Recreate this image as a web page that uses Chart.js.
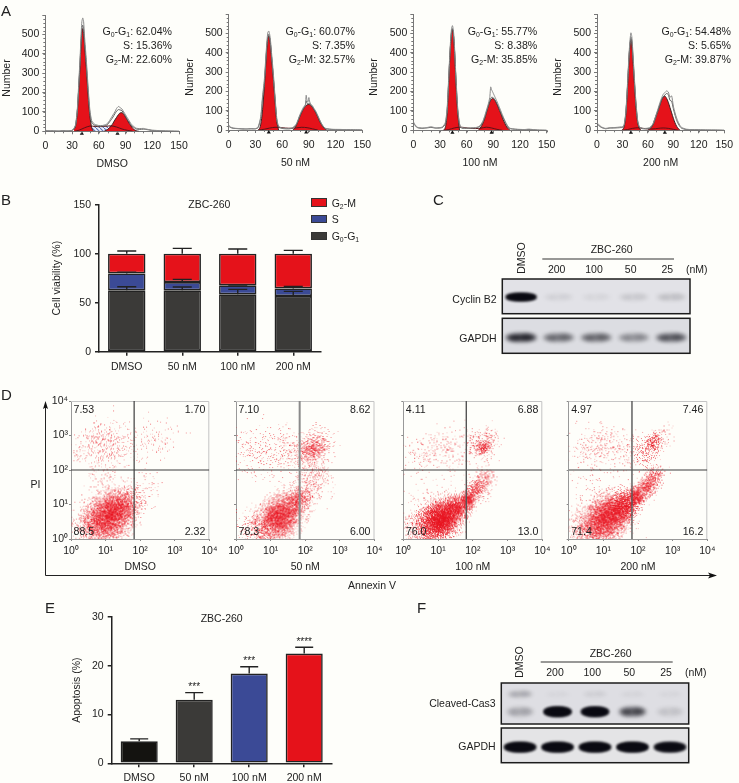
<!DOCTYPE html>
<html><head><meta charset="utf-8">
<script src="https://cdn.jsdelivr.net/npm/chart.js@4"></script>
<style>
html,body{margin:0;padding:0;background:#fefefa;width:739px;height:783px;overflow:hidden}
canvas{position:absolute;left:0;top:0;pointer-events:none}
.t{position:absolute;white-space:nowrap;line-height:1;font-family:"Liberation Sans",Arial,sans-serif;color:#222;font-size:10.5px}
.t i{font-style:normal;font-size:65%;position:relative;top:.3em}
svg{position:absolute;left:0;top:0}
</style></head><body>
<svg width="739" height="783">
<path d="M45.5 406V575.5H712" fill="none" stroke="#222" stroke-width="1"/>
<path d="M45.5 401L48 409L45.5 407.5L43 409Z M717 575.5L708 572.5L710 575.5L708 578.5Z" fill="#111"/>
<path d="M542.3 259H674M540.7 662H672.7" stroke="#333" stroke-width="1"/>
</svg>
<script>
// ---------- Panel A: cell-cycle histograms ----------
const dmsoG1X=[32,34,35,36,37,38,39,40,41,42,43,44,45,46,47,48,49,50,51,52,54];
const dmsoG1Y=[10,30,60,110,180,260,340,440,510,530,505,450,390,330,260,190,130,80,45,20,0];
const dmsoG2X=[66,70,72,74,76,78,80,82,84,86,88,90,92,94,96,98,100,102,105];
const dmsoG2Y=[0,10,18,28,42,58,72,86,95,96,88,74,58,42,28,16,8,3,0];
const dmsoSX=[33,38,44,50,56,62,68,74,80,86,92,98];
const dmsoSY=[0,6,18,27,25,24,26,28,22,12,5,0];
const dmsoRawX=[0,5,10,15,20,25,30,32,34,36,38,39,40,41,42,43,44,46,48,50,52,54,56,60,64,68,70,72,74,76,78,80,82,84,86,88,90,92,94,96,98,100,102,106,110,115,120,130,140,150];
const dmsoRawA=[5,3,2,2,2,3,5,14,35,120,290,380,480,565,585,565,490,370,230,110,55,42,35,30,30,35,42,55,70,85,100,118,128,122,115,100,85,70,55,40,30,22,16,14,15,10,6,3,1,0];
const dmsoRawB=[4,2,2,1,3,2,4,12,30,105,270,355,450,530,548,525,460,345,210,95,45,35,30,26,27,30,36,48,60,74,90,104,112,110,106,92,78,60,48,34,24,18,12,10,11,8,4,2,1,0];
const dmsoMarks=[41,81];

const nm50G1X=[33,35,36,37,38,39,40,41,42,43,44,45,46,47,48,49,50,51,52,53,54,56];
const nm50G1Y=[0,12,30,60,105,160,225,295,370,435,475,485,475,440,385,330,275,215,155,95,45,0];
const nm50G2X=[72,74,76,78,80,82,84,86,88,90,92,94,96,98,100,102,104,106,108,110];
const nm50G2Y=[0,8,25,48,72,92,110,122,130,132,128,118,104,88,68,46,30,16,6,0];
const nm50SX=[34,40,46,52,58,64,70,76,82,88,94,100];
const nm50SY=[0,4,10,14,13,10,9,11,14,12,6,0];
const nm50RawX=[0,2,5,10,15,20,25,30,33,36,38,40,42,43,44,45,46,47,48,50,52,54,56,60,64,68,72,76,78,80,82,84,86,87,88,89,90,91,92,94,96,98,100,104,108,115,125,140,150];
const nm50RawA=[25,16,10,8,7,6,7,7,15,70,175,260,400,465,505,512,495,460,405,300,175,60,20,10,8,8,12,32,55,80,100,118,130,180,150,145,168,145,135,125,110,95,75,35,10,4,3,1,0];
const nm50RawB=[20,13,9,7,5,5,6,6,12,60,160,240,380,445,480,495,478,440,385,280,160,50,15,8,6,6,10,28,50,74,95,112,126,150,138,135,140,136,130,120,105,90,70,32,8,3,2,1,0];
const nm50Marks=[45,87];

const nm100G1X=[34,36,37,38,39,40,41,42,43,44,45,46,47,48,49,50,52];
const nm100G1Y=[0,15,40,90,170,270,370,450,505,519,500,440,350,250,160,90,0];
const nm100G2X=[73,75,77,79,81,83,85,87,89,91,93,95,97,99,101,103,105,107,109];
const nm100G2Y=[0,10,25,45,72,105,135,155,164,160,145,125,102,80,55,35,18,7,0];
const nm100SX=[34,40,46,52,58,64,70,76,82,88,94,100];
const nm100SY=[0,4,12,16,14,10,9,11,16,12,5,0];
const nm100RawX=[0,2,5,10,15,20,25,30,33,36,38,40,41,42,43,44,45,46,47,48,50,52,54,58,62,66,70,74,76,78,80,82,84,86,87,88,89,90,92,94,96,98,100,104,108,115,125,130,140,150];
const nm100RawA=[45,28,15,12,14,18,13,14,18,40,110,290,390,470,525,540,520,460,370,270,110,35,15,12,12,13,14,20,30,45,70,100,130,170,224,210,200,190,170,150,128,105,82,40,12,6,4,6,1,0];
const nm100RawB=[38,24,13,10,12,15,11,12,15,32,95,275,375,450,510,525,500,445,355,255,100,28,12,10,10,11,12,18,26,40,62,92,122,150,165,170,170,168,155,138,118,95,75,35,10,5,3,4,1,0];
const nm100Marks=[44,88];

const nm200G1X=[29,31,32,33,34,35,36,37,38,39,40,41,42,43,44,45,46,47,48,50,52];
const nm200G1Y=[0,8,20,45,85,150,225,310,390,445,468,450,390,320,250,180,120,75,40,10,0];
const nm200G2X=[60,62,64,66,68,70,72,74,76,78,80,82,84,86,88,90,92,94,96,98];
const nm200G2Y=[0,6,15,30,55,80,105,130,155,172,176,165,145,118,90,62,38,20,8,0];
const nm200SX=[30,36,42,48,54,60,66,72,78,84,90,96];
const nm200SY=[0,4,10,13,10,7,7,10,12,10,5,0];
const nm200RawX=[0,2,5,10,15,20,25,28,30,32,34,35,36,37,38,39,40,41,42,43,44,46,48,50,54,58,62,66,70,72,74,76,78,80,82,84,86,88,90,92,94,96,98,100,105,110,120,130,140,150];
const nm200RawA=[38,30,18,10,14,14,16,18,18,30,95,165,245,330,410,470,503,485,425,350,275,140,50,18,10,10,14,34,85,112,140,165,185,195,203,198,170,178,125,90,62,40,24,14,6,4,3,2,1,0];
const nm200RawB=[32,25,15,8,11,12,13,14,15,25,85,150,230,315,395,450,480,462,405,335,260,130,42,15,8,8,11,28,75,100,128,155,172,182,190,185,155,150,112,78,50,32,18,10,4,3,2,1,1,0];
const nm200Marks=[40,80];

const doses=['DMSO','50 nM','100 nM','200 nM'];
// ---------- Panel B ----------
const g0g1=[62.6,62.6,58.5,56.8];
const sPhase=[17.3,8.4,9.2,7.8];
const g2m=[20.1,29,32.3,35.4];
const g0g1Err=[66.3,66,63.6,61.6];
const sPhaseErr=[81,73.8,68,66.7];
const g2mErr=[102.7,105.4,104.8,103.4];
// ---------- Panel E ----------
const apoptosis=[4.5,13.05,18.4,22.5];
const apoptosisErr=[5,14.5,19.8,23.8];
const apoptosisStars=['','***','***','****'];
// ---------- Blots: relative band intensity ----------
const lanes=['DMSO','200','100','50','25'];
const cyclinB2Bands=[1,.06,.045,.09,.12];
const gapdhCBands=[.8,.45,.47,.3,.55];
const cas3UpperBands=[.2,.03,.06,.04,.03];
const cas3LowerBands=[.2,1,.95,.6,.09];
const gapdhFBands=[1,1,1,1,.88];
// ---------- Panel D: estimated clouds [Annexin V, PI, spread in decades, dots] ----------
const cloudsDmso=[[8.9,3.5,.28,1300],[15.8,6.3,.25,1300],[31.6,10,.2,420],[4,2,.25,300],[70,14,.18,70],[126,32,.2,40],[7.9,631,.3,210],[2,400,.2,40],[25,500,.3,50],[158,708,.3,70],[630,1000,.2,15],[10,50,.3,60]];
const clouds50=[[11.2,2.8,.25,900],[20,5,.22,1000],[40,8.9,.2,500],[71,15.8,.13,200],[4,1.6,.25,200],[158,40,.22,150],[251,79,.15,40],[178,447,.18,350],[100,316,.2,100],[2.5,355,.3,90],[12.6,355,.3,110],[40,398,.25,70],[316,794,.2,40],[40,63,.3,30]];
const clouds100=[[7.9,2.8,.22,1500],[14,4.5,.2,1500],[31.6,7.9,.17,800],[71,14,.1,350],[126,28,.13,250],[224,63,.12,120],[2.5,2,.25,200],[178,447,.07,60],[224,447,.07,60],[158,562,.2,170],[316,891,.12,30],[2.5,316,.2,40],[7.9,398,.25,70],[31.6,447,.25,60],[5,25,.5,70]];
const clouds200=[[8.9,3.2,.25,1300],[17.8,5.6,.22,1300],[40,10,.17,800],[89,17.8,.12,400],[178,35,.13,300],[316,71,.12,150],[3.2,2,.25,250],[282,631,.12,150],[158,355,.2,150],[447,1000,.15,30],[3.2,316,.3,70],[10,562,.25,110],[40,398,.3,70],[7.9,20,.5,90],[6.3,1.6,.25,200]];
const gates=[67,69,65,67];
const piGate=100;
const powers=[1,10,100,1000,10000];

const W=739,H=783,FONT='"Liberation Sans",Arial,sans-serif';
const INK='#222',RED='#e5121a',BLUE='#3b4a96',DARK='#3b3a38';
Chart.defaults.font.family=FONT;Chart.defaults.font.size=10.5;Chart.defaults.color=INK;Chart.defaults.animation=false;
Chart.defaults.plugins.legend.display=false;Chart.defaults.plugins.tooltip.enabled=false;

function T(x,y,html,o={}){const d=document.createElement('div');d.className='t';d.innerHTML=html;
 const a=o.a||'c',tx=a==='l'?'0':a==='r'?'-100%':'-50%';
 d.style.left=x+'px';d.style.top=y+'px';
 d.style.transform=`translate(${tx},-50%)`+(o.rot?` rotate(${o.rot}deg)`:'');
 if(o.size)d.style.fontSize=o.size+'px';document.body.appendChild(d);}
function mk(cfg){const c=document.createElement('canvas');c.width=W;c.height=H;c.style.width=W+'px';c.style.height=H+'px';document.body.appendChild(c);
 cfg.options=cfg.options||{};cfg.options.responsive=false;cfg.options.maintainAspectRatio=false;return new Chart(c,cfg);}
function pad(L,T_,R,B,yw,xh){return {autoPadding:false,padding:{left:L-yw,top:T_,right:W-R,bottom:H-B-xh}};}
const fitW=w=>s=>{s.width=w},fitH=h=>s=>{s.height=h};
const zip=(xs,ys)=>xs.map((x,i)=>({x,y:ys[i]}));

// ---------- A ----------
const hatch=(()=>{const c=document.createElement('canvas');c.width=c.height=4;const g=c.getContext('2d');g.fillStyle='#eef1fa';g.fillRect(0,0,4,4);g.strokeStyle='#5b72b8';g.lineWidth=1.1;g.beginPath();g.moveTo(0,0);g.lineTo(4,4);g.stroke();return g.createPattern(c,'repeat');})();
const minorTicks={id:'minorTicks',afterDraw(ch){const g=ch.ctx,a=ch.chartArea;g.save();g.strokeStyle='#777';g.lineWidth=1;g.beginPath();
 for(let v=0;v<=150;v+=10){const p=Math.round(ch.scales.x.getPixelForValue(v))+.5;g.moveTo(p,a.bottom);g.lineTo(p,a.bottom+2);}
 for(let v=0;v<=600;v+=20){const p=Math.round(ch.scales.y.getPixelForValue(v))+.5;g.moveTo(a.left,p);g.lineTo(a.left-2,p);}
 g.stroke();g.restore();}};
function hist(L,R,Tp,B,title,g1x,g1y,g2x,g2y,sx,sy,rx,ra,rb,marks,hatched){
 mk({type:'line',data:{datasets:[
  {data:zip(rx,ra),borderColor:'#8a8a8a',borderWidth:1,pointRadius:0,tension:.2,order:0},
  {data:zip(rx,rb),borderColor:'#5f5f5f',borderWidth:1,pointRadius:0,tension:.2,order:0},
  {data:zip(sx,sy),borderColor:'#5a1418',borderWidth:1,pointRadius:0,tension:.3,order:1},
  {data:zip(g1x,g1y),borderColor:'#3d2224',borderWidth:1,backgroundColor:RED,fill:'origin',pointRadius:0,cubicInterpolationMode:'monotone',order:2},
  {data:zip(g2x,g2y),borderColor:'#3d2224',borderWidth:1,backgroundColor:RED,fill:'origin',pointRadius:0,cubicInterpolationMode:'monotone',order:2},
  {data:zip(sx,sy),borderWidth:0,backgroundColor:hatched?hatch:'rgba(0,0,0,0)',fill:'origin',pointRadius:0,tension:.3,order:3},
  {data:marks.map(x=>({x,y:-12})),showLine:false,pointStyle:'triangle',pointRadius:2.4,pointBackgroundColor:'#111',pointBorderWidth:0,clip:false,order:0}
 ]},options:{layout:pad(L,Tp,R,B,45,39),scales:{
  x:{type:'linear',min:0,max:150,afterFit:fitH(39),border:{color:'#777'},grid:{drawOnChartArea:false,tickLength:3,color:'#777'},
     ticks:{stepSize:30,maxRotation:0,padding:6},title:{display:true,text:title,padding:0,font:{size:10.5}}},
  y:{min:0,max:600,afterFit:fitW(45),border:{color:'#777'},grid:{drawOnChartArea:false,tickLength:3,color:'#777'},
     ticks:{stepSize:100,padding:3,callback:v=>v===600?'':v}}}},plugins:[minorTicks]});
}
hist(45.3,179,15,131.3,'DMSO',dmsoG1X,dmsoG1Y,dmsoG2X,dmsoG2Y,dmsoSX,dmsoSY,dmsoRawX,dmsoRawA,dmsoRawB,dmsoMarks,true);
hist(228.7,362.3,14,130,'50 nM',nm50G1X,nm50G1Y,nm50G2X,nm50G2Y,nm50SX,nm50SY,nm50RawX,nm50RawA,nm50RawB,nm50Marks,false);
hist(413.3,546.7,14,130.3,'100 nM',nm100G1X,nm100G1Y,nm100G2X,nm100G2Y,nm100SX,nm100SY,nm100RawX,nm100RawA,nm100RawB,nm100Marks,false);
hist(597,730.3,14,130.3,'200 nM',nm200G1X,nm200G1Y,nm200G2X,nm200G2Y,nm200SX,nm200SY,nm200RawX,nm200RawA,nm200RawB,nm200Marks,false);
[[6,78],[189,77],[373,77],[557,77]].forEach(p=>T(p[0],p[1],'Number',{rot:-90,size:10.5}));
[[172,'62.04%','15.36%','22.60%'],[355,'60.07%','7.35%','32.57%'],[537.3,'55.77%','8.38%','35.85%'],[731,'54.48%','5.65%','39.87%']].forEach(r=>{
 T(r[0],31,`G<i>0</i>-G<i>1</i>: ${r[1]}`,{a:'r',size:10.6});T(r[0],45,`S: ${r[2]}`,{a:'r',size:10.6});T(r[0],59,`G<i>2</i>-M: ${r[3]}`,{a:'r',size:10.6});});

// ---------- error bars / stars ----------
const errBars={id:'errBars',afterDatasetsDraw(ch,_,o){const g=ch.ctx;g.save();g.strokeStyle='#222';g.lineWidth=1.4;
 o.sets.forEach(s=>{const m=ch.getDatasetMeta(s.i);s.err.forEach((v,k)=>{const b=m.data[k],yt=ch.scales.y.getPixelForValue(v);
  g.beginPath();g.moveTo(b.x,b.y);g.lineTo(b.x,yt);g.moveTo(b.x-o.cap,yt);g.lineTo(b.x+o.cap,yt);g.stroke();});});
 if(o.stars){g.fillStyle=INK;g.font='10px '+FONT;g.textAlign='center';g.textBaseline='middle';
  o.stars.forEach((t,k)=>g.fillText(t,ch.getDatasetMeta(0).data[k].x,ch.scales.y.getPixelForValue(o.sets[0].err[k])-5));}
 g.restore();}};
function barAxes(max,step,yw,xh,title){return {
 x:{stacked:true,afterFit:fitH(xh),offset:true,border:{color:'#222',width:1.5},grid:{drawOnChartArea:false,offset:false,tickLength:4,color:'#222',lineWidth:1.5},ticks:{padding:5,maxRotation:0,autoSkip:false}},
 y:{stacked:true,min:0,max,afterFit:fitW(yw),border:{color:'#222',width:1.5},grid:{drawOnChartArea:false,tickLength:4,color:'#222',lineWidth:1.5},ticks:{stepSize:step,padding:4},
    title:{display:true,text:title,padding:0,font:{size:10.5}}}};}
const bstyle={borderColor:'#222',borderWidth:1.6,inflateAmount:0,barPercentage:.674,categoryPercentage:1,borderSkipped:false};
// ---------- B ----------
mk({type:'bar',data:{labels:doses,datasets:[
 {label:'G0-G1',data:g0g1,backgroundColor:DARK,...bstyle},
 {label:'S',data:sPhase,backgroundColor:BLUE,...bstyle},
 {label:'G2-M',data:g2m,backgroundColor:RED,...bstyle}]},
 options:{layout:pad(99,204.7,321,351.7,48,24),scales:barAxes(150,50,48,24,'Cell viability (%)'),
 plugins:{errBars:{cap:9.5,sets:[{i:2,err:g2mErr},{i:1,err:sPhaseErr},{i:0,err:g0g1Err}]}}},plugins:[errBars]});
T(209.3,203.7,'ZBC-260');
[[202.7,RED,'G<i>2</i>-M'],[219.2,BLUE,'S'],[236,DARK,'G<i>0</i>-G<i>1</i>']].forEach(r=>{
 const s=document.createElement('div');s.style.cssText=`position:absolute;left:310.5px;top:${r[0]-4.5}px;width:14.5px;height:6.5px;background:${r[1]};border:1.5px solid #333`;document.body.appendChild(s);
 T(331.7,r[0],r[2],{a:'l'});});
// ---------- E ----------
mk({type:'bar',data:{labels:doses,datasets:[{data:apoptosis,backgroundColor:['#141310',DARK,BLUE,RED],...bstyle}]},
 options:{layout:pad(111.7,617,331.7,763.3,41,20),scales:barAxes(30,10,41,20,'Apoptosis (%)'),
 plugins:{errBars:{cap:9,sets:[{i:0,err:apoptosisErr}],stars:apoptosisStars}}},plugins:[errBars]});
T(221.7,618,'ZBC-260');

// ---------- blots ----------
const bandCache={};
function bandSprite(v,w,h){const k=[v,w,h].join();if(bandCache[k])return bandCache[k];
 const c=document.createElement('canvas');c.width=w+20;c.height=h+20;const g=c.getContext('2d');
 const cx=c.width/2,cy=c.height/2,strong=v>.8;
 g.filter=strong?'blur(1.4px)':'blur(2.2px)';g.fillStyle=`rgba(10,10,18,${Math.min(1,v)})`;
 for(let i=0;i<(strong?3:1);i++){g.beginPath();g.ellipse(cx,cy,w/2,h/2,0,0,7);g.fill();}
 if(!strong){g.fillStyle=`rgba(10,10,18,${v*.6})`;g.beginPath();g.ellipse(cx-w*.22,cy+.5,w*.16,h*.32,0,0,7);g.fill();
  g.beginPath();g.ellipse(cx+w*.2,cy-.5,w*.2,h*.36,0,0,7);g.fill();}
 return bandCache[k]=c;}
const blotFrame={id:'blotFrame',beforeDatasetsDraw(ch,_,o){const a=ch.chartArea,g=ch.ctx;g.save();g.fillStyle=o.bg;g.fillRect(a.left,a.top,a.width,a.height);g.restore();},
 afterDraw(ch){const a=ch.chartArea,g=ch.ctx;g.save();g.strokeStyle='#1c1c1c';g.lineWidth=1.5;g.strokeRect(a.left,a.top,a.width,a.height);g.restore();}};
function blot(L,R,Tp,B,rows,bg){mk({type:'line',data:{labels:lanes,datasets:rows.map(r=>({data:r.v.map(()=>r.y),showLine:false,
  pointStyle:r.v.map(v=>bandSprite(v,r.w,r.h)),pointRadius:r.w/2}))},
 options:{layout:{autoPadding:false,padding:{left:L,top:Tp,right:W-R,bottom:H-B}},
 scales:{x:{display:false,offset:true},y:{display:false,min:0,max:1}},plugins:{blotFrame:{bg}}},plugins:[blotFrame]});}
blot(502.3,690,279,313.7,[{v:cyclinB2Bands,y:.48,w:30,h:7}],'#e2e2e7');
blot(502.3,690,318.3,353.3,[{v:gapdhCBands,y:.45,w:31,h:8}],'#dcdde2');
blot(501.3,688.7,683,724,[{v:cas3UpperBands,y:.73,w:25,h:6},{v:cas3LowerBands,y:.3,w:27,h:9}],'#dedee3');
blot(501.3,688.7,728,762.7,[{v:gapdhFBands,y:.45,w:31,h:9}],'#e4e4e6');
T(520.7,258.3,'DMSO',{rot:-90});T(611.7,249.3,'ZBC-260');
[[556.7,'200'],[594,'100'],[630.7,'50'],[667.3,'25'],[696.7,'(nM)']].forEach(r=>T(r[0],269,r[1]));
T(496.7,299,'Cyclin B2',{a:'r'});T(496.7,338,'GAPDH',{a:'r'});
T(519.3,661.7,'DMSO',{rot:-90});T(610.7,652.7,'ZBC-260');
[[555,'200'],[592.3,'100'],[629.3,'50'],[666,'25'],[695.7,'(nM)']].forEach(r=>T(r[0],672.3,r[1]));
T(495.7,703.3,'Cleaved-Cas3',{a:'r'});T(495.7,746,'GAPDH',{a:'r'});

// ---------- D ----------
let seed=12345;const rnd=()=>(seed=(seed*16807)%2147483647)/2147483647; // fixed texture generator for the stipple sprite
const DEC=34.6;
function stipple(spread,n){const sig=spread*DEC*1.15,sz=Math.ceil(sig*6)+2,c=document.createElement('canvas');c.width=c.height=sz;const g=c.getContext('2d');
 const dots=Math.round(n*1.5);
 for(let i=0;i<dots;i++){const u=Math.max(rnd(),1e-6),t=6.283*rnd(),r=Math.sqrt(-2*Math.log(u))*sig;
  g.fillStyle=`rgba(232,20,32,${.16+.42*rnd()})`;g.fillRect(Math.round(sz/2+r*Math.cos(t)),Math.round(sz/2+r*Math.sin(t)),1,1);}
 return c;}
const sup={1:'10⁰',10:'10¹',100:'10²',1000:'10³',10000:'10⁴'};
const frame={id:'frame',beforeDatasetsDraw(ch){const a=ch.chartArea,g=ch.ctx;g.save();g.strokeStyle='#c4c4c4';g.lineWidth=1;g.beginPath();g.moveTo(a.left,a.top+.5);g.lineTo(a.right-.5,a.top+.5);g.lineTo(a.right-.5,a.bottom);g.stroke();g.restore();}};
function flow(L,R,title,clouds,gate,showY,gw,gc){
 mk({type:'scatter',data:{datasets:[
  {data:clouds.map(c=>({x:c[0],y:c[1]})),pointStyle:clouds.map(c=>stipple(c[2],c[3])),pointRadius:4,order:2},
  {data:[{x:gate,y:1},{x:gate,y:10000}],showLine:true,borderColor:gc,borderWidth:gw,pointRadius:0,order:1},
  {data:[{x:1,y:piGate},{x:10000,y:piGate}],showLine:true,borderColor:'#3c3c3c',borderWidth:1.2,pointRadius:0,order:1}
 ]},options:{layout:pad(L,401,R,539,showY?24:4,34),scales:{
  x:{type:'logarithmic',min:1,max:10000,afterFit:fitH(34),afterBuildTicks:s=>{s.ticks=powers.map(v=>({value:v,major:true}))},
     border:{color:'#999'},grid:{drawOnChartArea:false,tickLength:2,color:'#888'},
     ticks:{maxRotation:0,autoSkip:false,padding:4,callback:v=>sup[v]||''},title:{display:true,text:title,padding:0,font:{size:10.5}}},
  y:{type:'logarithmic',min:1,max:10000,afterFit:fitW(showY?24:4),afterBuildTicks:s=>{s.ticks=powers.map(v=>({value:v,major:true}))},
     border:{color:'#999'},grid:{drawOnChartArea:false,tickLength:2,color:'#888'},
     ticks:{autoSkip:false,padding:1,callback:v=>showY?(sup[v]||''):''}}}},plugins:[frame]});
}
flow(71,209.3,'DMSO',cloudsDmso,gates[0],true,1.2,'#3c3c3c');
flow(236,374.5,'50 nM',clouds50,gates[1],false,2,'#8a8a8a');
flow(403.3,542.3,'100 nM',clouds100,gates[2],false,1.4,'#555');
flow(568.7,707.3,'200 nM',clouds200,gates[3],false,1.4,'#555');
const quad=[[71,209.3,'7.53','1.70','88.5','2.32'],[236,374.5,'7.10','8.62','78.3','6.00'],[403.3,542.3,'4.11','6.88','76.0','13.0'],[568.7,707.3,'4.97','7.46','71.4','16.2']];
quad.forEach(q=>{T(q[0]+2.5,409,q[2],{a:'l',size:10.6});T(q[1]-4,409,q[3],{a:'r',size:10.6});T(q[0]+2.5,530.5,q[4],{a:'l',size:10.6});T(q[1]-4,530.5,q[5],{a:'r',size:10.6});});
T(35.5,483.5,'PI');T(372,585,'Annexin V');
// ---------- panel letters ----------
[[1,10,'A'],[1,198.5,'B'],[433,199,'C'],[1,394,'D'],[45,607,'E'],[417,607,'F']].forEach(r=>T(r[0],r[1],r[2],{a:'l',size:15}));
</script>
</body></html>
